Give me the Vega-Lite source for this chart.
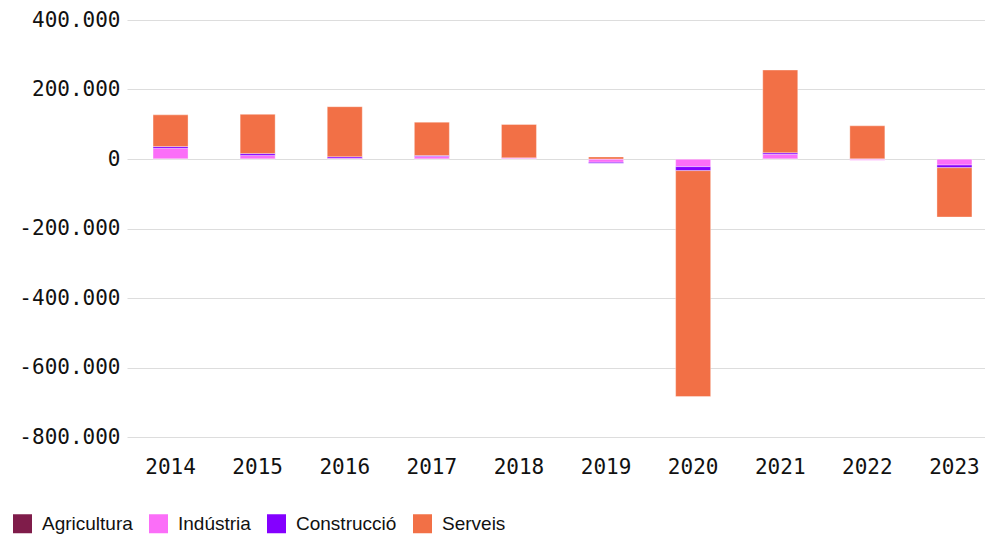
{
  "$schema": "https://vega.github.io/schema/vega-lite/v6.json",
  "width": 871,
  "height": 417,
  "autosize": "none",
  "padding": {"left": 127, "top": 20, "right": 0, "bottom": 97},
  "config": {
    "view": {"stroke": null}
  },
  "data": {
    "values": [
      {"year": "2014", "sector": "Agricultura", "order": 1, "value": 1000},
      {"year": "2014", "sector": "Indústria", "order": 2, "value": 30000},
      {"year": "2014", "sector": "Construcció", "order": 3, "value": 5000},
      {"year": "2014", "sector": "Serveis", "order": 4, "value": 91000},
      {"year": "2015", "sector": "Agricultura", "order": 1, "value": 500},
      {"year": "2015", "sector": "Indústria", "order": 2, "value": 9500},
      {"year": "2015", "sector": "Construcció", "order": 3, "value": 5500},
      {"year": "2015", "sector": "Serveis", "order": 4, "value": 113000},
      {"year": "2016", "sector": "Agricultura", "order": 1, "value": 500},
      {"year": "2016", "sector": "Indústria", "order": 2, "value": 1500},
      {"year": "2016", "sector": "Construcció", "order": 3, "value": 4500},
      {"year": "2016", "sector": "Serveis", "order": 4, "value": 144000},
      {"year": "2017", "sector": "Agricultura", "order": 1, "value": 500},
      {"year": "2017", "sector": "Indústria", "order": 2, "value": 6500},
      {"year": "2017", "sector": "Construcció", "order": 3, "value": 3000},
      {"year": "2017", "sector": "Serveis", "order": 4, "value": 96000},
      {"year": "2018", "sector": "Agricultura", "order": 1, "value": 300},
      {"year": "2018", "sector": "Indústria", "order": 2, "value": 2500},
      {"year": "2018", "sector": "Construcció", "order": 3, "value": 500},
      {"year": "2018", "sector": "Serveis", "order": 4, "value": 96000},
      {"year": "2019", "sector": "Agricultura", "order": 1, "value": -500},
      {"year": "2019", "sector": "Indústria", "order": 2, "value": -9000},
      {"year": "2019", "sector": "Construcció", "order": 3, "value": -3000},
      {"year": "2019", "sector": "Serveis", "order": 4, "value": 6000},
      {"year": "2020", "sector": "Agricultura", "order": 1, "value": -1000},
      {"year": "2020", "sector": "Indústria", "order": 2, "value": -21000},
      {"year": "2020", "sector": "Construcció", "order": 3, "value": -11500},
      {"year": "2020", "sector": "Serveis", "order": 4, "value": -650000},
      {"year": "2021", "sector": "Agricultura", "order": 1, "value": 500},
      {"year": "2021", "sector": "Indústria", "order": 2, "value": 13000},
      {"year": "2021", "sector": "Construcció", "order": 3, "value": 4500},
      {"year": "2021", "sector": "Serveis", "order": 4, "value": 238000},
      {"year": "2022", "sector": "Agricultura", "order": 1, "value": -500},
      {"year": "2022", "sector": "Indústria", "order": 2, "value": -3000},
      {"year": "2022", "sector": "Construcció", "order": 3, "value": 500},
      {"year": "2022", "sector": "Serveis", "order": 4, "value": 95000},
      {"year": "2023", "sector": "Agricultura", "order": 1, "value": -500},
      {"year": "2023", "sector": "Indústria", "order": 2, "value": -17000},
      {"year": "2023", "sector": "Construcció", "order": 3, "value": -7500},
      {"year": "2023", "sector": "Serveis", "order": 4, "value": -142000}
    ]
  },
  "mark": {"type": "bar", "size": 35, "stroke": "#ffffff", "strokeOpacity": 0.35, "strokeWidth": 1},
  "encoding": {
    "x": {
      "field": "year", "type": "ordinal",
      "axis": {"title": null, "labelAngle": 0, "domain": false, "ticks": false, "grid": false,
        "labelFont": "DejaVu Sans Mono", "labelFontSize": 21, "labelColor": "#111111", "labelPadding": 19}
    },
    "y": {
      "field": "value", "type": "quantitative", "stack": "zero",
      "scale": {"domain": [-800000, 400000], "nice": false},
      "axis": {"title": null, "values": [-800000, -600000, -400000, -200000, 0, 200000, 400000],
        "labelExpr": "(datum.value < 0 ? '-' : '') + replace(format(abs(datum.value), ','), regexp(',', 'g'), '.')",
        "domain": false, "ticks": false, "labelPadding": 7,
        "gridColor": "#dddddd", "gridWidth": 1,
        "labelFont": "DejaVu Sans Mono", "labelFontSize": 21, "labelColor": "#111111"}
    },
    "color": {
      "field": "sector", "type": "nominal",
      "scale": {"domain": ["Agricultura", "Indústria", "Construcció", "Serveis"],
        "range": ["#7f1c4a", "#fb6ef8", "#8400ff", "#f27046"]},
      "legend": {"title": null, "orient": "none", "direction": "horizontal", "legendX": -114, "legendY": 494,
        "symbolType": "square", "symbolSize": 361, "symbolStrokeWidth": 0, "symbolOpacity": 1,
        "labelFont": "Liberation Sans", "labelFontSize": 19, "labelColor": "#111111", "labelOffset": 10, "columnPadding": 16}
    },
    "order": {"field": "order", "type": "quantitative"}
  }
}
